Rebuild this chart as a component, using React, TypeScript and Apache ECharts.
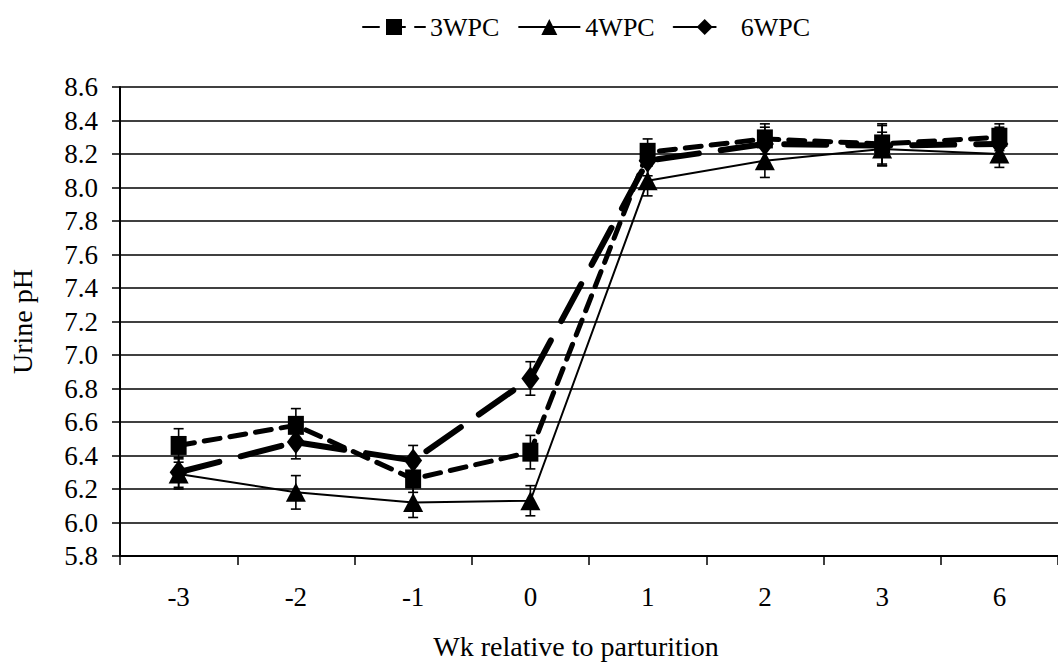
import React, { useEffect, useRef } from "react";
import * as echarts from "echarts";

const weeks = ["-3", "-2", "-1", "0", "1", "2", "3", "6"];

const wpc3 = [6.46, 6.58, 6.26, 6.42, 8.21, 8.29, 8.26, 8.30];
const wpc3Se = [0.10, 0.10, 0.08, 0.10, 0.08, 0.09, 0.12, 0.08];

const wpc4 = [6.29, 6.18, 6.12, 6.13, 8.04, 8.16, 8.23, 8.20];
const wpc4Se = [0.09, 0.10, 0.09, 0.09, 0.09, 0.10, 0.10, 0.08];

const wpc6 = [6.30, 6.48, 6.37, 6.86, 8.16, 8.26, 8.25, 8.26];
const wpc6Se = [0.09, 0.10, 0.09, 0.10, 0.09, 0.10, 0.12, 0.10];

const FONT = '"Liberation Serif", "Times New Roman", serif';

function errorData(mean: number[], se: number[]) {
  return mean.map((m, i) => [i, m - se[i], m + se[i]]);
}

// Vertical SE whiskers with caps, positioned through the chart's own axes
function errorSeries(name: string, mean: number[], se: number[]) {
  return {
    type: "custom",
    name: name + " SE",
    silent: true,
    z: 1,
    data: errorData(mean, se),
    encode: { x: 0, y: [1, 2] },
    renderItem: (_params: any, api: any) => {
      const i = api.value(0);
      const lo = api.coord([i, api.value(1)]);
      const hi = api.coord([i, api.value(2)]);
      const hw = 5;
      const style = { stroke: "#000", lineWidth: 1.6 };
      return {
        type: "group",
        children: [
          { type: "line", shape: { x1: lo[0], y1: lo[1], x2: hi[0], y2: hi[1] }, style },
          { type: "line", shape: { x1: lo[0] - hw, y1: lo[1], x2: lo[0] + hw, y2: lo[1] }, style },
          { type: "line", shape: { x1: hi[0] - hw, y1: hi[1], x2: hi[0] + hw, y2: hi[1] }, style },
        ],
      };
    },
  };
}

export default function App() {
  const ref = useRef<HTMLDivElement>(null);

  useEffect(() => {
    if (!ref.current) return;
    const chart = echarts.init(ref.current, null, { renderer: "svg" });
    chart.setOption({
      animation: false,
      backgroundColor: "#fff",
      textStyle: { fontFamily: FONT, color: "#000" },
      legend: {
        data: ["3WPC", "4WPC", "6WPC"],
        left: 362,
        top: 14,
        padding: 0,
        itemWidth: 62,
        itemHeight: 20,
        itemGap: 18,
        textStyle: { fontFamily: FONT, fontSize: 26, color: "#000", padding: [0, 0, 0, 0] },
      },
      grid: { left: 119, top: 87, width: 949, height: 469 },
      xAxis: {
        type: "category",
        data: weeks,
        boundaryGap: true,
        name: "Wk relative to parturition",
        nameLocation: "middle",
        nameGap: 76,
        nameTextStyle: { fontFamily: FONT, fontSize: 28, color: "#000", padding: [0, 26, 0, 0] },
        axisLine: { lineStyle: { color: "#000", width: 2 } },
        axisTick: { show: true, alignWithLabel: false, length: 9, lineStyle: { color: "#000", width: 1.5 } },
        axisLabel: { fontFamily: FONT, fontSize: 27, color: "#000", margin: 27 },
      },
      yAxis: {
        type: "value",
        min: 5.8,
        max: 8.6,
        interval: 0.2,
        name: "Urine pH",
        nameLocation: "middle",
        nameGap: 84,
        nameTextStyle: { fontFamily: FONT, fontSize: 28, color: "#000" },
        axisLine: { show: true, lineStyle: { color: "#000", width: 2 } },
        axisTick: { show: true, length: 8, lineStyle: { color: "#000", width: 1.5 } },
        axisLabel: {
          fontFamily: FONT,
          fontSize: 27,
          color: "#000",
          margin: 22,
          formatter: (v: number) => v.toFixed(1),
        },
        splitLine: { show: true, lineStyle: { color: "#000", width: 1.6 } },
      },
      series: [
        errorSeries("3WPC", wpc3, wpc3Se),
        errorSeries("4WPC", wpc4, wpc4Se),
        errorSeries("6WPC", wpc6, wpc6Se),
        {
          name: "3WPC",
          type: "line",
          data: wpc3,
          z: 3,
          symbol: "rect",
          symbolSize: [16, 19],
          itemStyle: { color: "#000" },
          lineStyle: { color: "#000", width: 5, type: [16, 10], cap: "round" },
        },
        {
          name: "4WPC",
          type: "line",
          data: wpc4,
          z: 2,
          symbol: "triangle",
          symbolSize: [20, 19],
          itemStyle: { color: "#000" },
          lineStyle: { color: "#000", width: 2 },
        },
        {
          name: "6WPC",
          type: "line",
          data: wpc6,
          z: 4,
          symbol: "diamond",
          symbolSize: [18, 24],
          itemStyle: { color: "#000" },
          lineStyle: { color: "#000", width: 6, type: [42, 22], cap: "round" },
        },
      ],
    });
    return () => chart.dispose();
  }, []);

  return (
    <div
      ref={ref}
      style={{ position: "fixed", left: 0, top: 0, width: 1058, height: 668, background: "#fff" }}
    />
  );
}
